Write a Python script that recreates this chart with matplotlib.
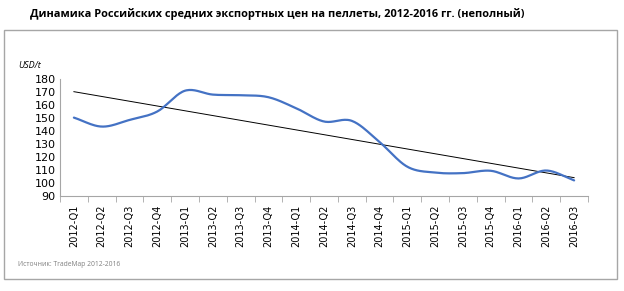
import numpy as np
import matplotlib.pyplot as plt
from matplotlib.patches import Rectangle

# Data
quarters = ['2012-Q1', '2012-Q2', '2012-Q3', '2012-Q4',
            '2013-Q1', '2013-Q2', '2013-Q3', '2013-Q4',
            '2014-Q1', '2014-Q2', '2014-Q3', '2014-Q4',
            '2015-Q1', '2015-Q2', '2015-Q3', '2015-Q4',
            '2016-Q1', '2016-Q2', '2016-Q3']
prices = [150.3, 143.4, 148.5, 155.0,
          171.0, 168.0, 167.5, 166.0,
          157.5, 147.3, 147.8, 131.5,
          112.5, 108.0, 107.6, 109.4,
          103.5, 109.6, 102.0]
y_ticks = [90, 100, 110, 120, 130, 140, 150, 160, 170, 180]


def smooth_curve(x, y, n=20):
    """Catmull-Rom style smoothing, similar to Excel's smoothed line"""
    x = np.asarray(x, float)
    y = np.asarray(y, float)
    px = np.concatenate([[2 * x[0] - x[1]], x, [2 * x[-1] - x[-2]]])
    py = np.concatenate([[2 * y[0] - y[1]], y, [2 * y[-1] - y[-2]]])
    xs, ys = [], []
    for i in range(1, len(px) - 2):
        t = np.linspace(0, 1, n, endpoint=False)
        p0, p1, p2, p3 = py[i - 1], py[i], py[i + 1], py[i + 2]
        ys.append(0.5 * ((2 * p1) + (-p0 + p2) * t
                         + (2 * p0 - 5 * p1 + 4 * p2 - p3) * t ** 2
                         + (-p0 + 3 * p1 - 3 * p2 + p3) * t ** 3))
        xs.append(px[i] + (px[i + 1] - px[i]) * t)
    xs.append([x[-1]])
    ys.append([y[-1]])
    return np.concatenate(xs), np.concatenate(ys)


fig = plt.figure(figsize=(6.24, 2.91), dpi=100)
fig.patch.set_facecolor('white')

# Outer chart frame
fig.patches.append(Rectangle((4 / 624, 1 - 279 / 291), 613 / 624, 249 / 291,
                             transform=fig.transFigure, fill=False,
                             edgecolor='#a6a6a6', linewidth=1.0))

fig.text(30 / 624, 1 - 14 / 291,
         'Динамика Российских средних экспортных цен на пеллеты, 2012-2016 гг. (неполный)',
         fontsize=7.9, fontweight='bold', family='Open Sans', va='center', ha='left')

ax = fig.add_axes([60 / 624, 1 - 196 / 291, 528 / 624, 117 / 291])

x = np.arange(len(quarters))
sx, sy = smooth_curve(x, prices)
ax.plot(sx, sy, color='#4472c4', linewidth=1.6, solid_capstyle='round', zorder=3)

# linear trend line
k, b = np.polyfit(x, prices, 1)
ax.plot(x, k * x + b, color='black', linewidth=0.7, zorder=2)

ax.set_xlim(-0.5, len(quarters) - 0.5)
ax.set_ylim(90, 180)
ax.set_yticks(y_ticks)
ax.set_xticks(x)
ax.set_xticklabels(quarters, rotation=90, fontsize=7, family='DejaVu Sans')
ax.set_xticks(np.arange(-0.5, len(quarters)), minor=True)
ax.tick_params(axis='x', which='major', length=0, pad=6)
ax.tick_params(axis='x', which='minor', length=4, color='#a6a6a6')
ax.tick_params(axis='y', length=0, labelsize=8, pad=3)
for lbl in ax.get_yticklabels():
    lbl.set_family('DejaVu Sans')

for side in ['top', 'right']:
    ax.spines[side].set_visible(False)
ax.spines['left'].set_color('#a6a6a6')
ax.spines['bottom'].set_color('#a6a6a6')

fig.text(18 / 624, 1 - 66 / 291, 'USD/t', fontsize=6.5, style='italic',
         family='Open Sans', va='center', ha='left')
fig.text(18 / 624, 1 - 265 / 291, 'Источник: TradeMap 2012-2016', fontsize=4.9,
         color='#7f7f7f', family='Open Sans', va='center', ha='left')

fig.savefig('out.png', dpi=100)
